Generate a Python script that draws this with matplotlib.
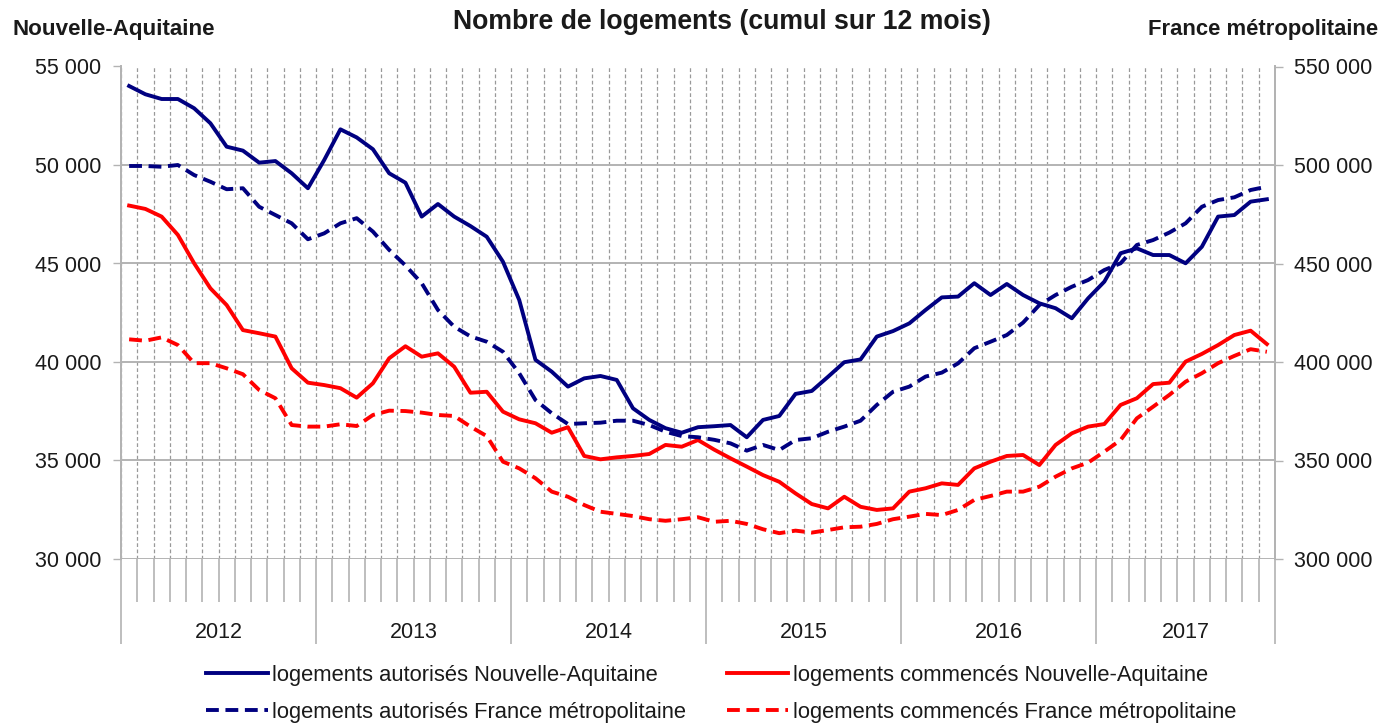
import matplotlib
matplotlib.use("Agg")
import matplotlib.pyplot as plt
from matplotlib.ticker import FuncFormatter, FixedLocator, MultipleLocator
import numpy as np

plt.rcParams['font.family'] = ['Liberation Sans', 'DejaVu Sans']

years = ["2012", "2013", "2014", "2015", "2016", "2017"]
n_months = 71  # janvier 2012 -> novembre 2017

na_autorises = [54010, 53590, 53350, 53350, 52880, 52120, 50930, 50730, 50120, 50200,
                49580, 48820, 50250, 51810, 51400, 50800, 49580, 49100, 47380, 48020,
                47380, 46900, 46360, 45090, 43150, 40110, 39510, 38750, 39170, 39290,
                39090, 37650, 37060, 36640, 36410, 36690, 36740, 36800, 36180, 37060,
                37260, 38380, 38530, 39250, 39990, 40130, 41290, 41570, 41960, 42640,
                43280, 43320, 44000, 43400, 43960, 43400, 42980, 42730, 42220, 43230,
                44080, 45520, 45770, 45430, 45430, 45010, 45850, 47380, 47460, 48140,
                48260]

fr_autorises = [499500, 499500, 499100, 500000, 494900, 491500, 487700, 488200, 478800, 474600,
                470400, 462300, 465300, 470400, 473000, 466200, 456900, 449000, 440000, 426400,
                417900, 413000, 410300, 405200, 394300, 380700, 374000, 368500, 368900, 369200,
                370200, 370200, 368000, 364600, 362400, 361800, 360500, 358700, 355000, 357900,
                355300, 360400, 361300, 364600, 367200, 370200, 378200, 384900, 387500, 392600,
                394600, 399300, 407000, 410300, 413700, 420000, 428900, 434000, 438200, 441600,
                446700, 450100, 459400, 461900, 465700, 470400, 478800, 482200, 483600, 487300,
                489000]

na_commences = [47940, 47770, 47380, 46450, 45010, 43740, 42890, 41620, 41460, 41290,
                39680, 38950, 38830, 38670, 38190, 38920, 40190, 40800, 40270, 40440,
                39760, 38440, 38490, 37480, 37090, 36890, 36410, 36690, 35230, 35060,
                35160, 35230, 35330, 35790, 35700, 36040, 35550, 35110, 34690, 34260,
                33920, 33330, 32790, 32570, 33160, 32650, 32490, 32570, 33420, 33590,
                33840, 33760, 34600, 34940, 35230, 35280, 34770, 35790, 36380, 36720,
                36850, 37820, 38160, 38880, 38950, 40020, 40410, 40860, 41370, 41590,
                40910]

fr_commences = [411500, 410800, 412500, 408600, 399400, 399400, 396800, 393800, 385800, 381600,
                368000, 367200, 367200, 368400, 367500, 373100, 375300, 375100, 374300, 373100,
                372600, 367200, 362400, 349400, 346000, 341000, 334200, 331600, 327400, 324000,
                322900, 321800, 320200, 319400, 320200, 321200, 318900, 319400, 317800, 315100,
                313100, 314400, 313400, 314700, 316100, 316400, 317800, 320200, 321500, 322900,
                322300, 324900, 330000, 332000, 334200, 334200, 336700, 341800, 346000, 348900,
                354500, 360400, 371400, 377300, 383300, 390000, 394300, 399400, 403100, 406500,
                405200]

labels = ["logements autorisés Nouvelle-Aquitaine",
          "logements autorisés France métropolitaine",
          "logements commencés Nouvelle-Aquitaine",
          "logements commencés France métropolitaine"]

NAVY = "#000080"
RED = "#ff0000"
GRID = "#b3b3b3"
TXT = "#1a1a1a"
FS = 15.5

W, H = 1385, 723
fig = plt.figure(figsize=(W / 100, H / 100), dpi=100)
L, R, T, B = 121, 1275, 66.5, 559
ax = fig.add_axes([L / W, 1 - B / H, (R - L) / W, (B - T) / H])
ax2 = ax.twinx()

x = np.arange(n_months) + 0.5
lw = 2.8
dash = (3.3, 1.7)

l1, = ax.plot(x, na_autorises, color=NAVY, lw=lw, solid_joinstyle='round', zorder=5)
l3, = ax.plot(x, na_commences, color=RED, lw=lw, solid_joinstyle='round', zorder=5)
l2, = ax2.plot(x, fr_autorises, color=NAVY, lw=lw, dashes=dash, zorder=5)
l4, = ax2.plot(x, fr_commences, color=RED, lw=lw, dashes=dash, zorder=5)

ax.set_xlim(0, n_months)
ax.set_ylim(30000, 55000)
ax2.set_ylim(300000, 550000)

fmt = FuncFormatter(lambda v, p: f"{v:,.0f}".replace(",", " "))
ax.yaxis.set_major_locator(MultipleLocator(5000))
ax2.yaxis.set_major_locator(MultipleLocator(50000))
ax.yaxis.set_major_formatter(fmt)
ax2.yaxis.set_major_formatter(fmt)
ax.tick_params(axis='y', which='major', length=6, width=1, color=GRID,
               labelsize=FS, labelcolor=TXT, pad=8)
ax2.tick_params(axis='y', which='major', length=6, width=1, color=GRID,
                labelsize=FS, labelcolor=TXT, pad=8)
ax.yaxis.grid(True, color=GRID, lw=1.4)

# x axis: month boundaries (minor) and year boundaries (major)
year_bounds = [0, 12, 24, 36, 48, 60, n_months]
ax.xaxis.set_major_locator(FixedLocator(year_bounds))
ax.xaxis.set_minor_locator(FixedLocator([i for i in range(1, n_months) if i not in year_bounds]))
ax.set_xticklabels([])
ax.tick_params(axis='x', which='major', length=61, width=1.2, color=GRID, direction='out')
ax.tick_params(axis='x', which='minor', length=31, width=1.2, color=GRID, direction='out')
ax.xaxis.grid(True, which='both', color="#999999", lw=0.9, linestyle=(0, (3, 2)))
ax.set_axisbelow(True)
ax2.set_axisbelow(True)

# year labels centred in their block
for k, yr in enumerate(years):
    x0 = year_bounds[k]
    x1 = year_bounds[k + 1]
    ax.text((x0 + x1) / 2, -(632 - B) / (B - T), yr, transform=ax.get_xaxis_transform(),
            ha='center', va='center', fontsize=FS, color=TXT)

for a in (ax, ax2):
    for s in a.spines.values():
        s.set_color(GRID)
        s.set_linewidth(1.4)
    a.spines['top'].set_visible(False)
    a.spines['bottom'].set_visible(False)

fig.text(722 / W, 1 - 22 / H, "Nombre de logements (cumul sur 12 mois)", ha='center', va='center',
         fontsize=19.2, fontweight='bold', color=TXT)
fig.text(12 / W, 1 - 30 / H, "Nouvelle-Aquitaine", ha='left', va='center',
         fontsize=16.1, fontweight='bold', color=TXT)
fig.text(1378 / W, 1 - 30 / H, "France métropolitaine", ha='right', va='center',
         fontsize=15.8, fontweight='bold', color=TXT)

leg = fig.legend([l1, l2, l3, l4], labels, ncol=2, loc='center',
                 bbox_to_anchor=(721 / W, 1 - 694 / H), frameon=False,
                 fontsize=15.85, handlelength=2.8, handletextpad=0.2,
                 columnspacing=1.85, labelspacing=0.72, labelcolor=TXT,
                 borderpad=0.1)

fig.savefig("out.png", dpi=100)
